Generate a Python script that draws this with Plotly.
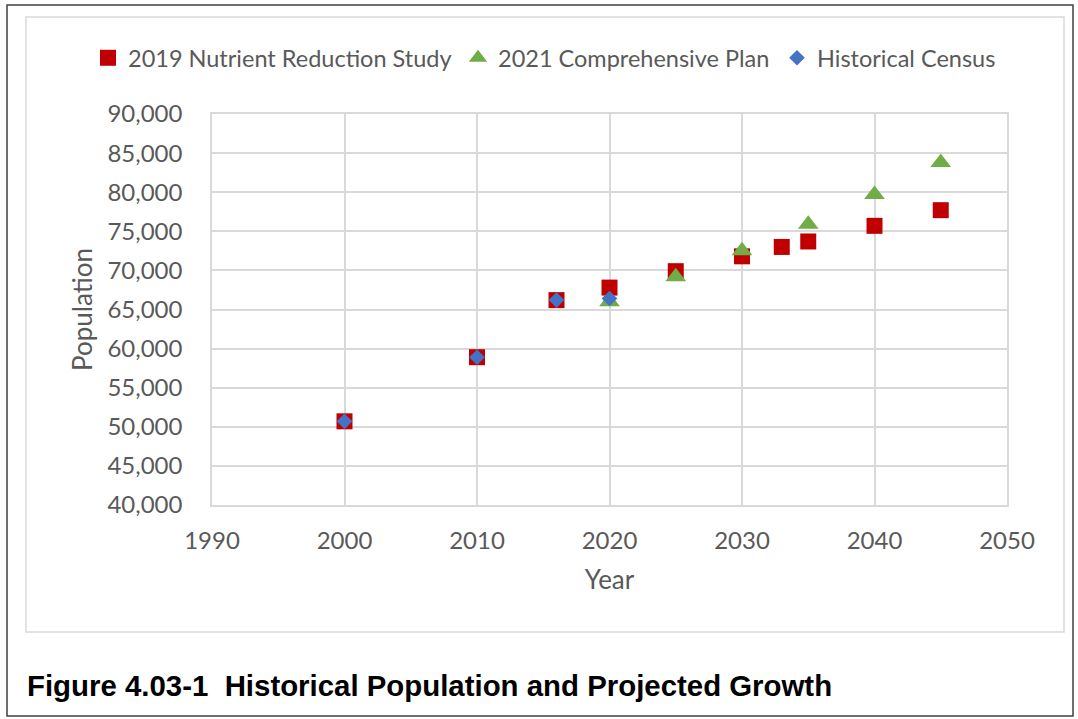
import plotly.graph_objects as go

# ---- data ----
nrs_years = [2000, 2010, 2016, 2020, 2025, 2030, 2033, 2035, 2040, 2045]
nrs_pop = [50700, 58900, 66200, 67800, 69900, 71800, 73000, 73700, 75700, 77700]

plan_years = [2020, 2025, 2030, 2035, 2040, 2045]
plan_pop = [66000, 69200, 72500, 75900, 79700, 83800]

census_years = [2000, 2010, 2016, 2020]
census_pop = [50700, 58900, 66200, 66400]

x_ticks = [1990, 2000, 2010, 2020, 2030, 2040, 2050]
y_ticks = [40000, 45000, 50000, 55000, 60000, 65000, 70000, 75000, 80000, 85000, 90000]
y_labels = [f"{v:,}" for v in y_ticks]

series_names = ["2019 Nutrient Reduction Study", "2021 Comprehensive Plan", "Historical Census"]
caption = "Figure 4.03-1  Historical Population and Projected Growth"

# ---- layout geometry (pixels) ----
W, H = 1078, 719
L, R, T, B = 212, 1007, 114, 505
pw, ph = R - L, B - T


def px(x):
    return (x - L) / pw


def py(y):
    return (B - y) / ph


FONT = "Lato"
GRAY = "#595959"
GRID = "#D9D9D9"
LEG_FONT = dict(family=FONT, size=23.5, color=GRAY)

fig = go.Figure()
fig.add_trace(go.Scatter(x=nrs_years, y=nrs_pop, mode="markers", name=series_names[0],
                         legend="legend",
                         marker=dict(symbol="square", size=16, color="#C00000")))
fig.add_trace(go.Scatter(x=plan_years, y=plan_pop, mode="markers", name=series_names[1],
                         legend="legend2",
                         marker=dict(symbol="triangle-up", size=18, color="#70AD47")))
fig.add_trace(go.Scatter(x=census_years, y=census_pop, mode="markers", name=series_names[2],
                         legend="legend3",
                         marker=dict(symbol="diamond", size=12, color="#4472C4")))

shapes = [
    # outer black frame
    dict(type="rect", xref="paper", yref="paper", x0=px(7), x1=px(1073), y0=py(716), y1=py(5),
         line=dict(color="#404040", width=1.5), layer="below"),
    # chart area frame
    dict(type="rect", xref="paper", yref="paper", x0=px(26), x1=px(1064), y0=py(632), y1=py(17),
         line=dict(color=GRID, width=1.5), layer="below"),
]


def leg(xpix):
    return dict(orientation="h", x=px(xpix), xanchor="left", y=py(58), yanchor="middle",
                font=LEG_FONT, itemwidth=30, bgcolor="rgba(0,0,0,0)", borderwidth=0)


fig.update_layout(
    width=W, height=H,
    margin=dict(l=L, r=W - R, t=T, b=H - B, autoexpand=False),
    paper_bgcolor="white", plot_bgcolor="white",
    font=dict(family=FONT, size=22, color=GRAY),
    showlegend=True,
    legend=leg(88),
    legend2=leg(458),
    legend3=leg(777),
    shapes=shapes,
    annotations=[
        dict(text="<b>" + caption + "</b>", xref="paper", yref="paper", x=px(25), y=py(685),
             xanchor="left", yanchor="middle", showarrow=False,
             font=dict(family="Liberation Sans", size=29.4, color="black")),
    ],
)

fig.update_xaxes(
    range=[1990, 2050], tickvals=x_ticks, showgrid=True, gridcolor=GRID, gridwidth=1.5,
    showline=True, linecolor=GRID, linewidth=1.5, mirror=True, zeroline=False,
    ticks="", ticklabelstandoff=13, tickfont=dict(family=FONT, size=24, color=GRAY),
    title=dict(text="Year", font=dict(family=FONT, size=26, color=GRAY), standoff=18),
)
fig.update_yaxes(
    range=[40000, 90000], tickvals=y_ticks, ticktext=y_labels, showgrid=True, gridcolor=GRID,
    gridwidth=1.5, showline=True, linecolor=GRID, linewidth=1.5, mirror=True, zeroline=False,
    ticks="", ticklabelstandoff=23, tickfont=dict(family=FONT, size=24, color=GRAY),
    title=dict(text="Population", font=dict(family=FONT, size=26, color=GRAY), standoff=7),
)

fig.write_html("out.html")
